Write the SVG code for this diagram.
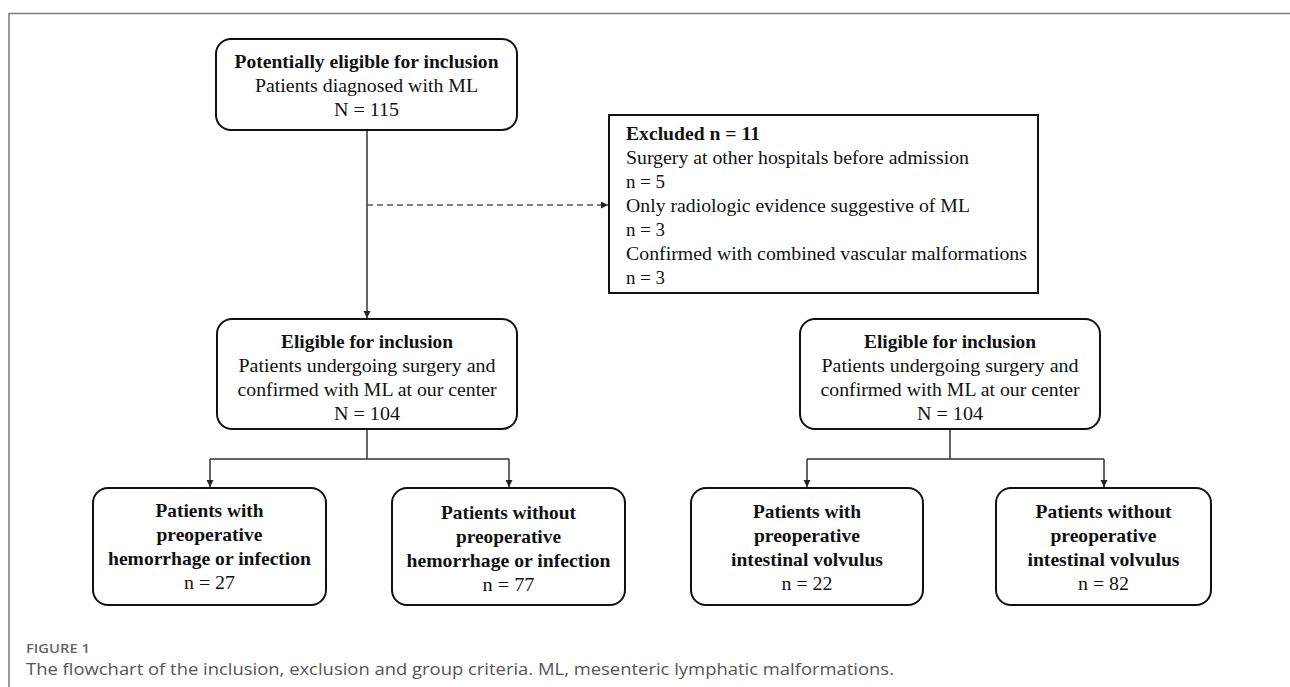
<svg xmlns="http://www.w3.org/2000/svg" width="1290" height="687" viewBox="0 0 1290 687">
<style>
.box{fill:#fff;stroke:#111;stroke-width:2}
.t{font-family:"Liberation Serif","Times New Roman",serif;font-size:19.5px;fill:#111}
.b{font-weight:bold}
.m{text-anchor:middle}
.conn{fill:none;stroke:#333;stroke-width:1.5}
.dash{stroke-dasharray:6 4;stroke:#555}
.frame{fill:none;stroke:#7a7a7a;stroke-width:1.5}
.cap1{font-family:"Open Sans","Liberation Sans",sans-serif;font-size:13px;font-weight:600;fill:#666}
.cap2{font-family:"Open Sans","Liberation Sans",sans-serif;font-size:16px;fill:#555}
</style>
<defs>
<marker id="arr" markerWidth="8" markerHeight="8" refX="7" refY="4" orient="auto" markerUnits="userSpaceOnUse">
<path d="M0,0.5 L7,4 L0,7.5 Z" fill="#222"/>
</marker>
</defs>
<rect width="1290" height="687" fill="#fff"/>
<path class="frame" d="M9,687 V13.5 H1290"/>

<g id="connectors">
<path class="conn" d="M367,130 V318" marker-end="url(#arr)"/>
<path class="conn dash" d="M367,205 H608" marker-end="url(#arr)"/>
<path class="conn" d="M367,429 V459 M210,459 H509"/>
<path class="conn" d="M210,459 V487" marker-end="url(#arr)"/>
<path class="conn" d="M509,459 V487" marker-end="url(#arr)"/>
<path class="conn" d="M950,429 V459 M807,459 H1104"/>
<path class="conn" d="M807,459 V487" marker-end="url(#arr)"/>
<path class="conn" d="M1104,459 V487" marker-end="url(#arr)"/>
</g>

<g id="n1">
<rect class="box" x="216" y="39" width="301" height="91" rx="15"/>
<text class="t b m" x="366.5" y="68" textLength="264" lengthAdjust="spacingAndGlyphs">Potentially eligible for inclusion</text>
<text class="t m" x="366.5" y="92" textLength="223" lengthAdjust="spacingAndGlyphs">Patients diagnosed with ML</text>
<text class="t m" x="366.5" y="116" textLength="65" lengthAdjust="spacingAndGlyphs">N = 115</text>
</g>

<g id="excluded">
<rect class="box" x="609" y="115" width="429" height="178"/>
<text class="t b" x="626" y="140" textLength="134" lengthAdjust="spacingAndGlyphs">Excluded  n = 11</text>
<text class="t" x="626" y="164" textLength="343" lengthAdjust="spacingAndGlyphs">Surgery at other hospitals before admission</text>
<text class="t" x="626" y="188" textLength="39" lengthAdjust="spacingAndGlyphs">n = 5</text>
<text class="t" x="626" y="212" textLength="344" lengthAdjust="spacingAndGlyphs">Only radiologic evidence suggestive of ML</text>
<text class="t" x="626" y="236" textLength="39" lengthAdjust="spacingAndGlyphs">n = 3</text>
<text class="t" x="626" y="260" textLength="401" lengthAdjust="spacingAndGlyphs">Confirmed with combined vascular malformations</text>
<text class="t" x="626" y="284" textLength="39" lengthAdjust="spacingAndGlyphs">n = 3</text>
</g>

<g id="eligible-left">
<rect class="box" x="217" y="319" width="300" height="110" rx="15"/>
<text class="t b m" x="367" y="348" textLength="172" lengthAdjust="spacingAndGlyphs">Eligible for inclusion</text>
<text class="t m" x="367" y="372" textLength="257" lengthAdjust="spacingAndGlyphs">Patients undergoing surgery and</text>
<text class="t m" x="367" y="396" textLength="259" lengthAdjust="spacingAndGlyphs">confirmed with ML at our center</text>
<text class="t m" x="367" y="420" textLength="66" lengthAdjust="spacingAndGlyphs">N = 104</text>
</g>

<g id="eligible-right">
<rect class="box" x="800" y="319" width="300" height="110" rx="15"/>
<text class="t b m" x="950" y="348" textLength="172" lengthAdjust="spacingAndGlyphs">Eligible for inclusion</text>
<text class="t m" x="950" y="372" textLength="257" lengthAdjust="spacingAndGlyphs">Patients undergoing surgery and</text>
<text class="t m" x="950" y="396" textLength="259" lengthAdjust="spacingAndGlyphs">confirmed with ML at our center</text>
<text class="t m" x="950" y="420" textLength="66" lengthAdjust="spacingAndGlyphs">N = 104</text>
</g>

<g id="with-hemorrhage">
<rect class="box" x="93" y="488" width="233" height="117" rx="15"/>
<text class="t b m" x="209.5" y="517" textLength="108" lengthAdjust="spacingAndGlyphs">Patients with</text>
<text class="t b m" x="209.5" y="541" textLength="106" lengthAdjust="spacingAndGlyphs">preoperative</text>
<text class="t b m" x="209.5" y="565" textLength="203" lengthAdjust="spacingAndGlyphs">hemorrhage or infection</text>
<text class="t m" x="209.5" y="589" textLength="51" lengthAdjust="spacingAndGlyphs">n = 27</text>
</g>

<g id="without-hemorrhage">
<rect class="box" x="392" y="488" width="233" height="117" rx="15"/>
<text class="t b m" x="508.5" y="519" textLength="135" lengthAdjust="spacingAndGlyphs">Patients without</text>
<text class="t b m" x="508.5" y="543" textLength="105" lengthAdjust="spacingAndGlyphs">preoperative</text>
<text class="t b m" x="508.5" y="567" textLength="204" lengthAdjust="spacingAndGlyphs">hemorrhage or infection</text>
<text class="t m" x="508.5" y="591" textLength="52" lengthAdjust="spacingAndGlyphs">n = 77</text>
</g>

<g id="with-volvulus">
<rect class="box" x="691" y="488" width="232" height="117" rx="15"/>
<text class="t b m" x="807" y="518" textLength="108" lengthAdjust="spacingAndGlyphs">Patients with</text>
<text class="t b m" x="807" y="542" textLength="106" lengthAdjust="spacingAndGlyphs">preoperative</text>
<text class="t b m" x="807" y="566" textLength="152" lengthAdjust="spacingAndGlyphs">intestinal volvulus</text>
<text class="t m" x="807" y="590" textLength="51" lengthAdjust="spacingAndGlyphs">n = 22</text>
</g>

<g id="without-volvulus">
<rect class="box" x="996" y="488" width="215" height="117" rx="15"/>
<text class="t b m" x="1103.5" y="518" textLength="136" lengthAdjust="spacingAndGlyphs">Patients without</text>
<text class="t b m" x="1103.5" y="542" textLength="106" lengthAdjust="spacingAndGlyphs">preoperative</text>
<text class="t b m" x="1103.5" y="566" textLength="152" lengthAdjust="spacingAndGlyphs">intestinal volvulus</text>
<text class="t m" x="1103.5" y="590" textLength="51" lengthAdjust="spacingAndGlyphs">n = 82</text>
</g>

<g id="caption">
<text class="cap1" x="26" y="653" textLength="64" lengthAdjust="spacingAndGlyphs">FIGURE 1</text>
<text class="cap2" x="26" y="675" textLength="868" lengthAdjust="spacingAndGlyphs">The flowchart of the inclusion, exclusion and group criteria. ML, mesenteric lymphatic malformations.</text>
</g>
</svg>
